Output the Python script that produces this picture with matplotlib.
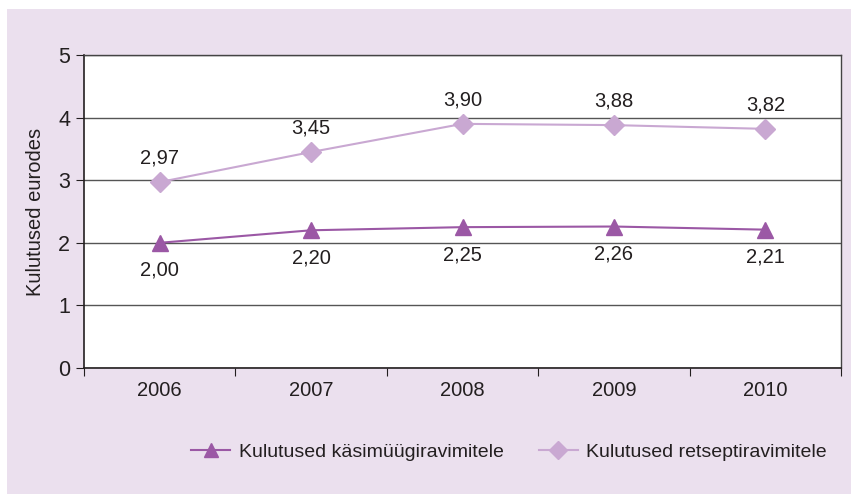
import matplotlib
matplotlib.use("Agg")
import matplotlib.pyplot as plt
from matplotlib.patches import Rectangle

years = ["2006", "2007", "2008", "2009", "2010"]
otc = [2.00, 2.20, 2.25, 2.26, 2.21]
rx = [2.97, 3.45, 3.90, 3.88, 3.82]
otc_labels = ["2,00", "2,20", "2,25", "2,26", "2,21"]
rx_labels = ["2,97", "3,45", "3,90", "3,88", "3,82"]
yticks = [0, 1, 2, 3, 4, 5]

FONT = ["Liberation Sans Narrow", "Liberation Sans", "DejaVu Sans"]
plt.rcParams['font.family'] = FONT

BG = "#ebe0ee"
C_OTC = "#9b58a5"
C_RX = "#c9a8d2"
TXT = "#231f20"
FS = 14.5

W, H = 851, 494
fig = plt.figure(figsize=(W / 100, H / 100), dpi=100)
fig.patch.set_facecolor("white")
fig.patches.append(Rectangle((7 / W, 0), 1, 1 - 9 / H, transform=fig.transFigure,
                             facecolor=BG, edgecolor="none", zorder=-10))

ax = fig.add_axes([84 / W, 1 - 368 / H, (841 - 84) / W, (368 - 55) / H])
ax.set_facecolor("white")

x = list(range(len(years)))
ax.plot(x, otc, color=C_OTC, lw=1.5, marker="^", ms=11, mec=C_OTC, mfc=C_OTC,
        label="Kulutused käsimüügiravimitele", zorder=3)
ax.plot(x, rx, color=C_RX, lw=1.5, marker="D", ms=10, mec=C_RX, mfc=C_RX,
        label="Kulutused retseptiravimitele", zorder=3)

for xi, v, s in zip(x, rx, rx_labels):
    ax.annotate(s, (xi, v), xytext=(0, 10.5), textcoords="offset points",
                ha="center", va="bottom", fontsize=FS, color=TXT)
for xi, v, s in zip(x, otc, otc_labels):
    ax.annotate(s, (xi, v), xytext=(0, -13), textcoords="offset points",
                ha="center", va="top", fontsize=FS, color=TXT)

ax.set_xlim(-0.5, len(years) - 0.5)
ax.set_ylim(0, 5)
ax.set_yticks(yticks)
ax.set_yticklabels([str(t) for t in yticks], fontsize=FS + 1, color=TXT)
ax.set_xticks([i - 0.5 for i in range(len(years) + 1)])
ax.set_xticklabels([])
ax.set_xticks(x, minor=True)
ax.set_xticklabels(years, minor=True, fontsize=FS, color=TXT)
ax.tick_params(axis="x", which="minor", length=0, pad=9)
ax.tick_params(axis="x", which="major", length=6, direction="out", color=TXT)
ax.tick_params(axis="y", length=6, direction="out", color=TXT, pad=4)

ax.yaxis.grid(True, color="#555555", lw=1.0)
ax.set_axisbelow(True)
for side in ["left", "bottom"]:
    ax.spines[side].set_color(TXT)
    ax.spines[side].set_linewidth(1.2)
for side in ["top", "right"]:
    ax.spines[side].set_color("#444444")
    ax.spines[side].set_linewidth(1.0)

ax.set_ylabel("Kulutused eurodes", fontsize=14.5, color=TXT, labelpad=9)

leg = fig.legend(loc="center", bbox_to_anchor=(509 / W, 1 - 452 / H),
                 ncol=2, frameon=False, fontsize=14, handlelength=2.0,
                 columnspacing=1.8, handletextpad=0.45, markerscale=0.95)
for t in leg.get_texts():
    t.set_color(TXT)

fig.savefig("out.png", dpi=100, facecolor=fig.get_facecolor())
